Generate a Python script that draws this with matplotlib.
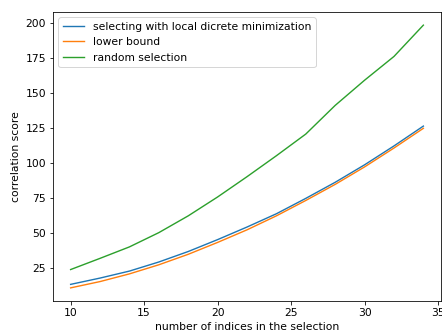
import matplotlib
matplotlib.use("Agg")
import matplotlib.pyplot as plt

x_values = [10, 12, 14, 16, 18, 20, 22, 24, 26, 28, 30, 32, 34]
local_min = [13, 17.5, 22.5, 29, 36.5, 45, 54, 63.5, 74.5, 86, 98.5, 112, 126.2]
lower_bound = [10.5, 15, 20.5, 27, 34.5, 43, 52, 62, 73, 84.5, 97, 110.5, 124.6]
random_sel = [23.6, 31.6, 39.8, 50, 62, 75.5, 90, 105, 120.5, 141, 159, 176, 198.4]

labels = ["selecting with local dicrete minimization", "lower bound", "random selection"]

plt.rcParams["font.size"] = 10.8
dpi = 72
fig = plt.figure(figsize=(442 / dpi, 334 / dpi), dpi=dpi)
ax = fig.add_axes([53 / 442, 33 / 334, 388 / 442, 289 / 334])
ax.plot(x_values, local_min, label=labels[0], lw=1.4)
ax.plot(x_values, lower_bound, label=labels[1], lw=1.4)
ax.plot(x_values, random_sel, label=labels[2], lw=1.4)
ax.set_xlabel("number of indices in the selection")
ax.set_ylabel("correlation score")
ax.legend(loc="upper left")
fig.savefig("out.png", dpi=dpi)
